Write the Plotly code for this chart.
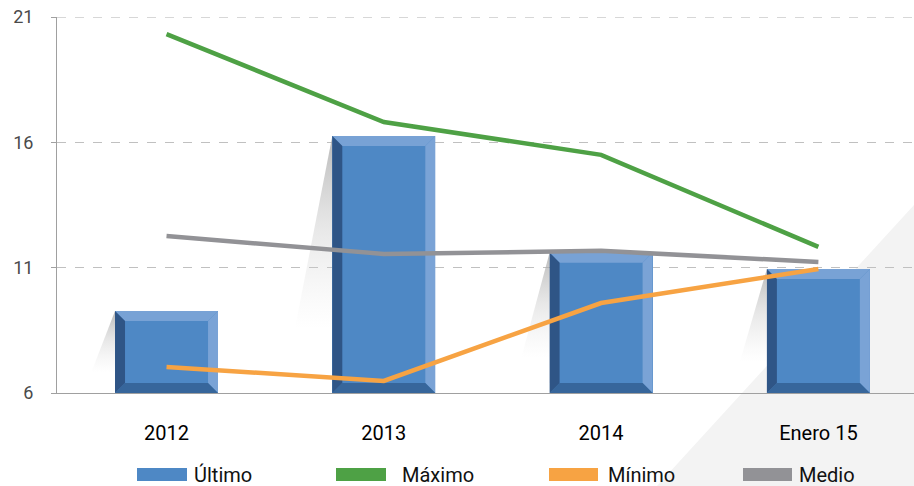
import plotly.graph_objects as go

categories = ["2012", "2013", "2014", "Enero 15"]
ultimo = [9.27, 16.25, 11.6, 10.95]
maximo = [20.32, 16.81, 15.5, 11.83]
minimo = [7.04, 6.48, 9.59, 10.95]
medio = [12.26, 11.55, 11.67, 11.23]
y_ticks = [6, 11, 16, 21]

Y_MIN, Y_MAX = 6, 21
BAR_W = 0.474
BX = 0.046   # bevel width in category units
BY = 0.40    # bevel height in value units

FACE = "#4e88c5"
TOP = "#78a2d5"
RIGHT = "#7aa3d6"
LEFT = "#2f5586"
BOTTOM = "#37669b"

GREEN = "#4ea145"
ORANGE = "#f7a343"
GRAY = "#929296"

xs = list(range(len(categories)))
fig = go.Figure()

# shadows
for x, v in zip(xs, ultimo):
    x0 = x - BAR_W / 2
    h = v - Y_MIN
    w = 0.08 + 0.009 * h
    fig.add_trace(go.Scatter(
        x=[x0, x0 - w, x0, x0], y=[v, v - 0.75 * h, v - 0.75 * h, v],
        mode="lines", line=dict(width=0), fill="toself",
        fillgradient=dict(type="vertical",
                          colorscale=[[0, "rgba(220,220,220,0)"], [0.5, "rgba(200,200,200,0.4)"], [1, "rgba(160,160,160,0.75)"]]),
        hoverinfo="skip", showlegend=False))

# bars
fig.add_trace(go.Bar(x=xs, y=[v - Y_MIN for v in ultimo], base=Y_MIN, width=BAR_W,
                     marker=dict(color=FACE, line=dict(width=0)), name="Último", showlegend=False))

# bevels
def poly(px, py, color):
    fig.add_trace(go.Scatter(x=px + [px[0]], y=py + [py[0]], mode="lines", line=dict(width=0),
                             fill="toself", fillcolor=color, hoverinfo="skip", showlegend=False))

for x, v in zip(xs, ultimo):
    x0, x1 = x - BAR_W / 2, x + BAR_W / 2
    b, t = Y_MIN, v
    poly([x0, x1, x1 - BX, x0 + BX], [t, t, t - BY, t - BY], TOP)
    poly([x1, x1, x1 - BX, x1 - BX], [t, b, b + BY, t - BY], RIGHT)
    poly([x0, x1, x1 - BX, x0 + BX], [b, b, b + BY, b + BY], BOTTOM)
    poly([x0, x0 + BX, x0 + BX, x0], [t, t - BY, b + BY, b], LEFT)

for vals, col, name in [(maximo, GREEN, "Máximo"), (medio, GRAY, "Medio"), (minimo, ORANGE, "Mínimo")]:
    fig.add_trace(go.Scatter(x=xs, y=vals, mode="lines", line=dict(color=col, width=4.5),
                             name=name, showlegend=False))

shapes = [dict(type="path", xref="paper", yref="paper",
               path="M 1 0.5 L 0.695 -0.26 L 1 -0.26 Z",
               fillcolor="#f3f3f3", line=dict(width=0), layer="below"),
          dict(type="line", xref="paper", yref="y", x0=0, x1=1, y0=Y_MAX, y1=Y_MAX,
               line=dict(color="#b0b0b0", width=1, dash="dash"), layer="below")]

legend_items = [("Último", FACE, 137, 187, 192), ("Máximo", GREEN, 336, 386, 400),
                ("Mínimo", ORANGE, 549, 598, 606), ("Medio", GRAY, 743, 792, 797)]
annotations = []
L, PW, B, PH = 57, 857, 393, 376
for name, col, s0, s1, tx in legend_items:
    shapes.append(dict(type="rect", xref="paper", yref="paper",
                       x0=(s0 - L) / PW, x1=(s1 - L) / PW,
                       y0=(B - 481) / PH, y1=(B - 468) / PH,
                       fillcolor=col, line=dict(width=0)))
    annotations.append(dict(xref="paper", yref="paper", x=(tx - L) / PW, y=(B - 475) / PH,
                            text=name, showarrow=False, xanchor="left", yanchor="middle",
                            font=dict(size=20, color="#111111", family="Roboto")))

fig.update_layout(
    width=914, height=486,
    margin=dict(l=57, r=0, t=17, b=93),
    paper_bgcolor="white", plot_bgcolor="rgba(0,0,0,0)",
    shapes=shapes, annotations=annotations,
    bargap=0,
    xaxis=dict(range=[-0.504, 3.44], tickvals=xs, ticktext=categories, showgrid=False,
               zeroline=False, showline=True, linecolor="#a0a0a0", linewidth=1,
               ticks="", ticklabelstandoff=22,
               tickfont=dict(size=20, color="#000000", family="Roboto")),
    yaxis=dict(range=[Y_MIN, Y_MAX], tickvals=y_ticks, showgrid=True, gridcolor="#c0c0c0",
               griddash="dash", gridwidth=1, zeroline=False, showline=True,
               linecolor="#a0a0a0", linewidth=1, ticks="outside", ticklen=5,
               tickcolor="#a0a0a0", ticklabelstandoff=14,
               tickfont=dict(size=18, color="#4a4a4a", family="Roboto")),
)

fig.write_html("out.html", config={"displayModeBar": False},
               post_script="document.body.style.margin='0';document.body.style.overflow='hidden';")
